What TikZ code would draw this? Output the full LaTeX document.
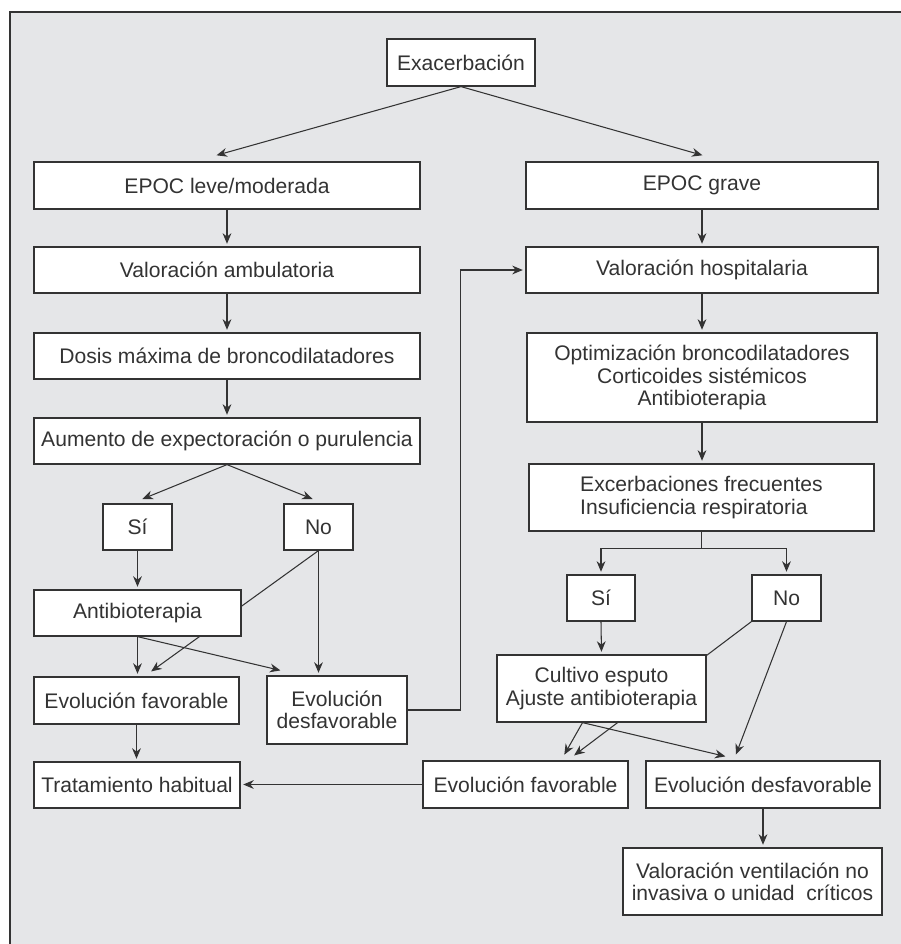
\documentclass[tikz,border=0pt]{standalone}
\usepackage{fontspec}
\setmainfont{Liberation Sans}
\usetikzlibrary{arrows.meta,calc}
\pgfdeclarelayer{fondo}
\pgfsetlayers{fondo,main}
\definecolor{gris}{HTML}{E5E6E8}
\definecolor{tinta}{HTML}{333333}

\begin{document}
\begin{tikzpicture}
[x=0.02cm, y=-0.02cm, font=\fontsize{12}{12.6}\selectfont, text=tinta]
\tikzstyle{caja}=[draw=tinta, fill=white, line width=0.7pt, inner sep=1pt, minimum height=0.92cm, align=center]
\tikzstyle{flecha}=[draw=tinta, line width=0.6pt, -{Stealth[length=6pt,width=5pt]}, shorten >=1.5pt]
\tikzstyle{linea}=[draw=tinta, line width=0.6pt]
\useasboundingbox (0,0) rectangle (901,944);
\begin{pgfonlayer}{fondo}
\fill[gris] (10,12) rectangle (901,944);
\draw[tinta, line width=0.9pt] (10,944) -- (10,12) -- (901,12);
\end{pgfonlayer}

% left column
\node[caja, minimum width=2.96cm, minimum height=0.94cm] (exac)    at (461,62.5)  {Exacerbación};
\node[caja, minimum width=7.72cm, minimum height=0.94cm] (leve)    at (227,185.5) {EPOC leve/moderada};
\node[caja, minimum width=7.72cm]                        (vamb)    at (227,270)   {Valoración ambulatoria};
\node[caja, minimum width=7.72cm]                        (dosis)   at (227,356)   {Dosis máxima de broncodilatadores};
\node[caja, minimum width=7.72cm]                        (aumento) at (227,441)   {Aumento de expectoración o purulencia};
\node[caja, minimum width=1.38cm]                        (si1)     at (137.5,527) {Sí};
\node[caja, minimum width=1.38cm]                        (no1)     at (318.5,527) {No};
\node[caja, minimum width=4.14cm]                        (antib)   at (137.5,613) {Antibioterapia};
\node[caja, minimum width=4.10cm, minimum height=0.94cm] (fav1)    at (136.5,700.5) {Evolución favorable};
\node[caja, minimum width=2.80cm, minimum height=1.36cm] (desf1)   at (337,710)   {Evolución\\desfavorable};
\node[caja, minimum width=4.12cm]                        (trat)    at (137,785)   {Tratamiento habitual};

% right column
\node[caja, minimum width=7.04cm, minimum height=0.94cm] (grave)   at (702,185.5) {EPOC grave};
\node[caja, minimum width=7.04cm]                        (vhosp)   at (702,270)   {Valoración hospitalaria};
\node[caja, minimum width=7.00cm, minimum height=1.78cm] (optim)   at (702,377.5) {Optimización broncodilatadores\\Corticoides sistémicos\\Antibioterapia};
\node[caja, minimum width=6.90cm, minimum height=1.34cm, align=left] (excerb) at (701.5,497.5) {Excerbaciones frecuentes\\Insuficiencia respiratoria};
\node[caja, minimum width=1.36cm]                        (si2)     at (601,598)   {Sí};
\node[caja, minimum width=1.38cm]                        (no2)     at (786.5,598) {No};
\node[caja, minimum width=4.18cm, minimum height=1.34cm] (cultivo) at (601.5,688.5) {Cultivo esputo\\Ajuste antibioterapia};
\node[caja, minimum width=4.10cm, minimum height=0.94cm] (fav2)    at (525.5,784.5) {Evolución favorable};
\node[caja, minimum width=4.68cm, minimum height=0.94cm] (desf2)   at (763,784.5) {Evolución desfavorable};
\node[caja, minimum width=5.18cm, minimum height=1.34cm] (vent)    at (752.5,881.5) {Valoración ventilación no\\invasiva o unidad \ críticos};

% arrow tips
\coordinate (t1)  at (214,156);
\coordinate (t2)  at (705,156);
\coordinate (t3)  at (140,500);
\coordinate (t4)  at (315,500);
\coordinate (t5)  at (149,673);
\coordinate (t6)  at (283,671);
\coordinate (t7)  at (572,757);
\coordinate (t8)  at (735,757);
\coordinate (t9)  at (563,757);
\coordinate (t10) at (728,757);
\coordinate (c1)  at ($(cultivo.south)+(-19,0)$);

\draw[flecha] (exac.south) -- (t1);
\draw[flecha] (exac.south) -- (t2);
\draw[flecha] (leve.south) -- (vamb.north);
\draw[flecha] (vamb.south) -- (dosis.north);
\draw[flecha] (dosis.south) -- (aumento.north);
\draw[flecha] (aumento.south) -- (t3);
\draw[flecha] (aumento.south) -- (t4);
\draw[flecha] (si1.south) -- (antib.north);
\draw[flecha] (no1.south) -- (no1.south |- desf1.north);
\draw[flecha] (antib.south) -- (antib.south |- fav1.north);
\draw[flecha] (antib.south) -- (t6);
\draw[flecha] (fav1.south) -- (fav1.south |- trat.north);
\draw[flecha] (desf1.east) -- ++(53,0) |- (vhosp.west);
\draw[flecha] (fav2.west) -- (fav2.west -| trat.east);

\draw[flecha] (grave.south) -- (vhosp.north);
\draw[flecha] (vhosp.south) -- (optim.north);
\draw[flecha] (optim.south) -- (optim.south |- excerb.north);
\draw[flecha] (excerb.south) -- ++(0,17) -| (si2.north);
\draw[flecha] (excerb.south) -- ++(0,17) -| (no2.north);
\draw[flecha] (si2.south) -- (cultivo.north);
\draw[flecha] (no2.south) -- (t8);
\draw[flecha] (c1) -- (t9);
\draw[flecha] (c1) -- (t10);
\draw[flecha] (desf2.south) -- (desf2.south |- vent.north);

% lines passing behind the boxes
\begin{pgfonlayer}{fondo}
\draw[flecha] (no1.south) -- (t5);
\draw[flecha] (no2.south west) -- (t7);
\end{pgfonlayer}
\end{tikzpicture}
\end{document}
